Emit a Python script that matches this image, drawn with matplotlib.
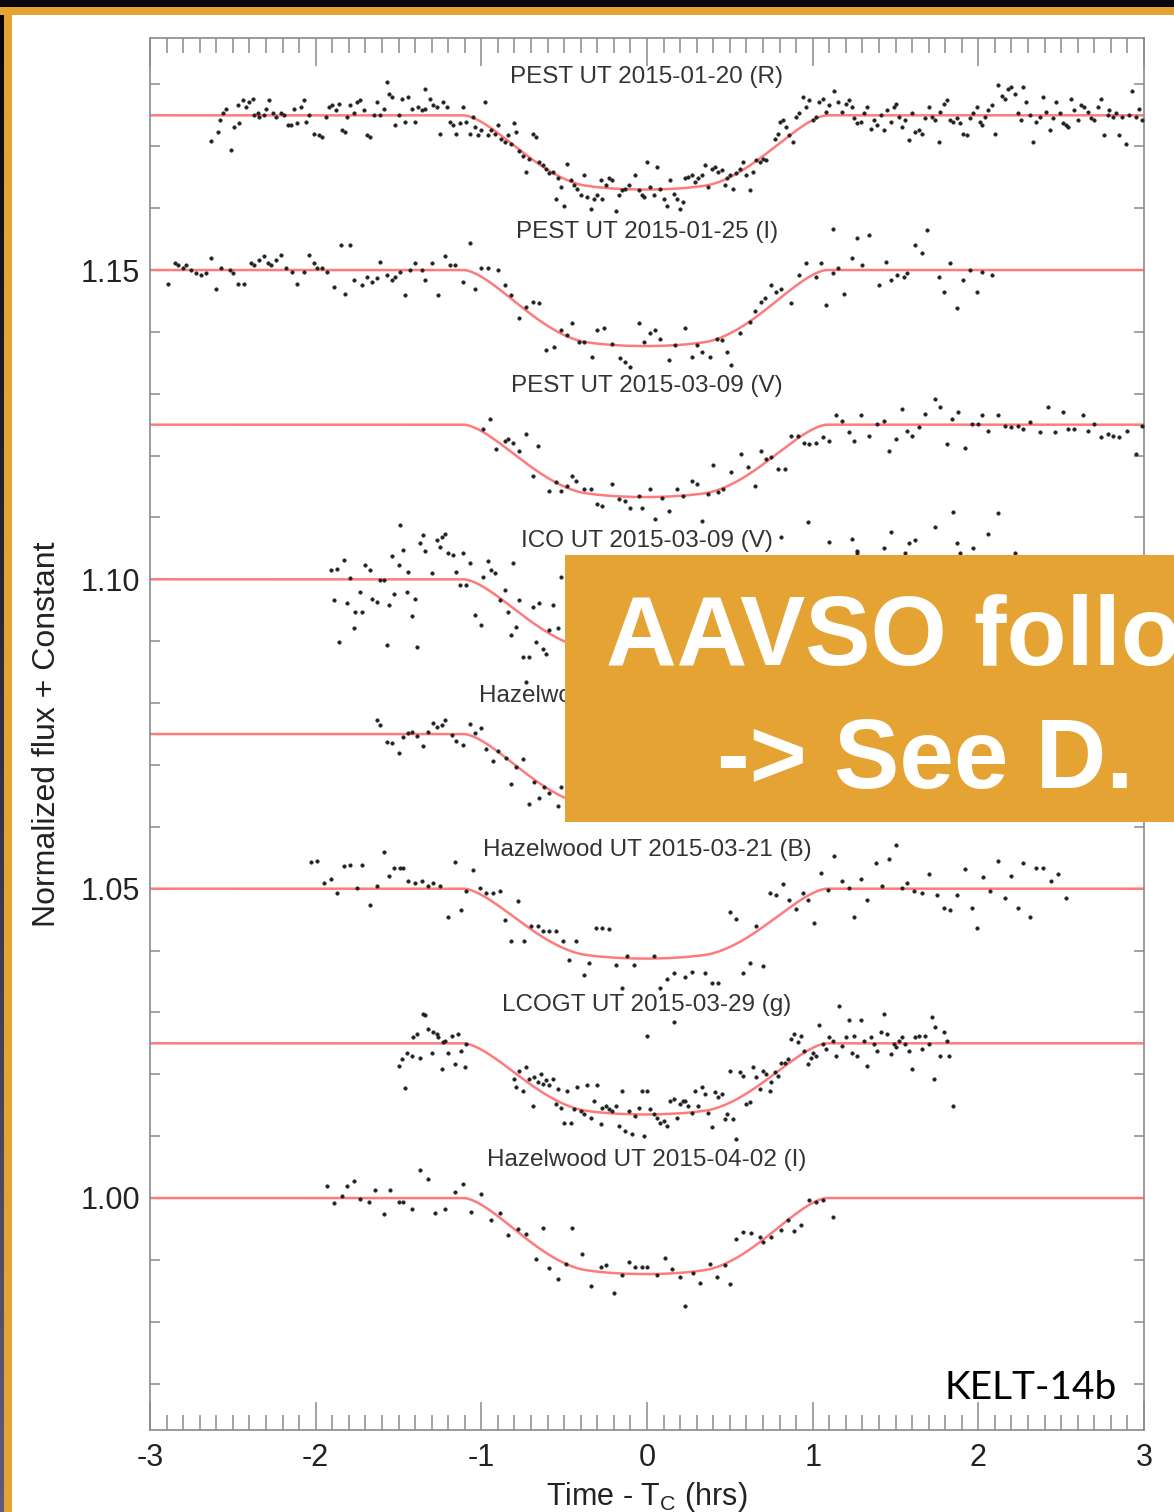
import numpy as np
import matplotlib
matplotlib.use("Agg")
from matplotlib import pyplot as plt
from matplotlib.patches import Rectangle
from matplotlib.ticker import MultipleLocator, FixedLocator

plt.rcParams['font.family'] = ['Liberation Sans', 'DejaVu Sans']
plt.rcParams['axes.unicode_minus'] = False

W, H = 1174, 1512

# light curves: (hours from mid-transit, normalized flux)
pest_r = [
    (-2.63, 0.9958), (-2.59, 0.9973), (-2.58, 0.9992), (-2.56, 1.0003), (-2.54, 1.0011), (-2.51, 0.9944),
    (-2.49, 0.9981), (-2.47, 1.0017), (-2.46, 0.9987), (-2.44, 1.0024), (-2.42, 1.0013), (-2.40, 1.0022),
    (-2.38, 1.0027), (-2.37, 1.0000), (-2.35, 1.0003), (-2.34, 0.9997), (-2.31, 1.0000), (-2.30, 1.0011),
    (-2.28, 1.0024), (-2.26, 1.0003), (-2.24, 0.9997), (-2.21, 1.0003), (-2.19, 1.0000), (-2.17, 0.9984),
    (-2.15, 0.9984), (-2.13, 1.0011), (-2.11, 0.9987), (-2.09, 1.0013), (-2.07, 1.0024), (-2.06, 0.9989),
    (-2.04, 1.0000), (-2.01, 0.9970), (-1.98, 0.9968), (-1.96, 0.9965), (-1.94, 0.9997), (-1.92, 1.0013),
    (-1.90, 1.0016), (-1.88, 1.0008), (-1.86, 1.0019), (-1.84, 0.9976), (-1.82, 0.9973), (-1.81, 0.9997),
    (-1.79, 1.0016), (-1.77, 1.0003), (-1.75, 1.0022), (-1.73, 1.0024), (-1.71, 1.0008), (-1.69, 0.9968),
    (-1.67, 0.9965), (-1.65, 1.0000), (-1.63, 1.0022), (-1.61, 1.0000), (-1.59, 1.0011), (-1.57, 1.0054),
    (-1.56, 1.0035), (-1.54, 1.0030), (-1.52, 0.9984), (-1.50, 1.0000), (-1.48, 1.0027), (-1.46, 0.9989),
    (-1.44, 1.0030), (-1.42, 1.0011), (-1.40, 0.9989), (-1.38, 1.0013), (-1.36, 1.0008), (-1.34, 1.0011),
    (-1.34, 1.0043), (-1.31, 1.0027), (-1.29, 1.0016), (-1.27, 1.0013), (-1.25, 0.9970), (-1.23, 1.0022),
    (-1.21, 1.0013), (-1.19, 0.9989), (-1.17, 0.9984), (-1.15, 0.9970), (-1.13, 0.9987), (-1.11, 1.0013),
    (-1.09, 0.9989), (-1.07, 0.9970),
    (-1.05, 0.9997), (-1.04, 0.9981), (-1.02, 0.9968), (-1.00, 0.9976), (-0.98, 1.0022), (-0.96, 0.9968),
    (-0.94, 0.9976), (-0.92, 0.9970), (-0.90, 0.9984), (-0.88, 0.9962), (-0.86, 0.9957), (-0.84, 0.9968),
    (-0.82, 0.9954), (-0.80, 0.9987), (-0.79, 0.9973), (-0.77, 0.9943), (-0.75, 0.9935), (-0.73, 0.9908),
    (-0.71, 0.9930), (-0.69, 0.9970), (-0.67, 0.9965), (-0.65, 0.9924), (-0.63, 0.9919), (-0.61, 0.9914),
    (-0.59, 0.9906), (-0.57, 0.9908), (-0.55, 0.9865), (-0.54, 0.9898), (-0.52, 0.9884), (-0.50, 0.9854),
    (-0.48, 0.9922), (-0.46, 0.9895), (-0.44, 0.9887), (-0.42, 0.9881), (-0.40, 0.9871), (-0.38, 0.9903),
    (-0.36, 0.9868), (-0.34, 0.9849), (-0.32, 0.9865), (-0.30, 0.9871), (-0.28, 0.9895), (-0.27, 0.9865),
    (-0.25, 0.9887), (-0.23, 0.9898), (-0.21, 0.9895), (-0.19, 0.9846), (-0.17, 0.9871), (-0.15, 0.9879),
    (-0.13, 0.9881), (-0.11, 0.9887), (-0.07, 0.9903), (-0.05, 0.9879), (-0.03, 0.9871), (-0.02, 0.9868),
    (0.00, 0.9924), (0.02, 0.9884), (0.04, 0.9871), (0.06, 0.9916), (0.08, 0.9881), (0.10, 0.9865),
    (0.12, 0.9854), (0.14, 0.9895), (0.16, 0.9873), (0.18, 0.9865), (0.20, 0.9849), (0.22, 0.9860),
    (0.23, 0.9898), (0.25, 0.9900), (0.27, 0.9903), (0.29, 0.9892), (0.31, 0.9898), (0.33, 0.9903),
    (0.35, 0.9919), (0.37, 0.9884), (0.39, 0.9914), (0.41, 0.9916), (0.43, 0.9908), (0.45, 0.9911),
    (0.47, 0.9887), (0.48, 0.9898), (0.50, 0.9903), (0.52, 0.9881), (0.54, 0.9906), (0.56, 0.9914),
    (0.58, 0.9924), (0.60, 0.9903), (0.62, 0.9879), (0.64, 0.9908), (0.66, 0.9927), (0.68, 0.9924),
    (0.70, 0.9930), (0.72, 0.9927),
    (0.77, 0.9962), (0.79, 0.9970), (0.80, 0.9989), (0.82, 0.9992), (0.84, 0.9981), (0.86, 0.9968),
    (0.88, 0.9957), (0.90, 0.9997), (0.92, 1.0003), (0.94, 1.0030), (0.96, 1.0013), (0.98, 1.0024),
    (1.00, 0.9992), (1.02, 0.9997), (1.04, 1.0022), (1.06, 1.0027), (1.08, 1.0005), (1.10, 1.0016),
    (1.13, 1.0040), (1.15, 1.0022),
    (1.18, 1.0005), (1.20, 1.0019), (1.22, 1.0024), (1.24, 1.0013), (1.25, 0.9995), (1.27, 0.9987),
    (1.29, 0.9989), (1.31, 1.0003), (1.33, 1.0013), (1.35, 0.9978), (1.37, 0.9992), (1.39, 0.9984),
    (1.41, 1.0000), (1.43, 0.9976), (1.45, 1.0008), (1.47, 0.9989), (1.49, 1.0013), (1.50, 1.0019),
    (1.52, 0.9997), (1.54, 0.9981), (1.56, 0.9992), (1.58, 0.9960), (1.60, 1.0003), (1.62, 0.9973),
    (1.64, 0.9976), (1.66, 0.9970), (1.68, 0.9995), (1.70, 1.0013), (1.72, 0.9997), (1.74, 0.9992),
    (1.76, 0.9957), (1.77, 1.0005), (1.79, 1.0019), (1.81, 1.0024), (1.83, 0.9992), (1.85, 0.9989),
    (1.87, 0.9995), (1.89, 0.9987), (1.91, 0.9970), (1.93, 0.9968), (1.95, 0.9995), (1.97, 1.0003),
    (1.99, 1.0013), (2.01, 0.9989), (2.02, 0.9984), (2.04, 0.9997), (2.06, 1.0008), (2.08, 1.0016),
    (2.10, 0.9970), (2.12, 1.0049), (2.14, 1.0032), (2.16, 1.0027), (2.18, 1.0043), (2.20, 1.0046),
    (2.22, 1.0035), (2.24, 1.0003), (2.26, 0.9992), (2.27, 1.0046), (2.29, 1.0022), (2.31, 1.0000),
    (2.33, 0.9957), (2.35, 0.9989), (2.37, 0.9997), (2.39, 1.0030), (2.41, 1.0005), (2.43, 0.9976),
    (2.45, 0.9995), (2.47, 1.0022), (2.49, 1.0003), (2.51, 0.9987), (2.53, 0.9984), (2.54, 0.9981),
    (2.56, 1.0027), (2.58, 1.0008), (2.60, 0.9992), (2.62, 1.0016), (2.64, 1.0013), (2.66, 1.0005),
    (2.68, 0.9995), (2.70, 0.9992), (2.72, 1.0013), (2.74, 1.0027), (2.76, 0.9968), (2.78, 1.0000),
    (2.79, 1.0008), (2.81, 0.9997), (2.83, 1.0003), (2.85, 0.9968), (2.87, 0.9997), (2.89, 0.9954),
    (2.91, 1.0000), (2.93, 1.0040), (2.95, 0.9997), (2.97, 1.0011), (2.99, 0.9992),
]

pest_i = [
    (-2.89, 0.9978), (-2.85, 1.0011), (-2.83, 1.0008), (-2.80, 1.0003), (-2.78, 1.0008), (-2.75, 1.0000),
    (-2.72, 0.9995), (-2.69, 0.9992), (-2.66, 0.9995), (-2.63, 1.0019), (-2.60, 0.9970), (-2.57, 1.0003),
    (-2.52, 1.0000), (-2.50, 0.9995), (-2.47, 0.9978), (-2.43, 0.9978), (-2.39, 1.0011), (-2.37, 1.0008),
    (-2.34, 1.0016), (-2.31, 1.0022), (-2.29, 1.0011), (-2.27, 1.0008), (-2.24, 1.0016), (-2.21, 1.0024),
    (-2.18, 1.0003), (-2.14, 0.9997), (-2.11, 0.9978), (-2.07, 0.9997), (-2.04, 1.0024), (-2.01, 1.0011),
    (-1.99, 1.0003), (-1.96, 1.0003), (-1.93, 0.9997), (-1.89, 0.9973), (-1.85, 1.0040), (-1.82, 0.9962),
    (-1.79, 1.0040), (-1.77, 0.9984), (-1.72, 0.9976), (-1.69, 0.9989), (-1.66, 0.9981), (-1.63, 0.9987),
    (-1.61, 1.0013), (-1.57, 0.9992), (-1.54, 0.9984), (-1.52, 0.9989), (-1.49, 0.9997), (-1.46, 0.9960),
    (-1.43, 1.0000), (-1.40, 1.0011), (-1.36, 1.0000), (-1.34, 0.9984), (-1.30, 1.0011), (-1.26, 0.9960),
    (-1.22, 1.0022), (-1.19, 1.0008), (-1.16, 1.0008), (-1.11, 0.9981), (-1.07, 1.0043), (-1.04, 0.9970),
    (-1.00, 1.0003), (-0.96, 1.0003), (-0.90, 1.0000),
    (-0.86, 0.9976), (-0.82, 0.9960), (-0.77, 0.9922), (-0.73, 0.9941), (-0.69, 0.9949), (-0.65, 0.9946),
    (-0.61, 0.9871), (-0.56, 0.9876), (-0.52, 0.9903), (-0.48, 0.9895), (-0.45, 0.9914), (-0.41, 0.9884),
    (-0.38, 0.9884), (-0.33, 0.9860), (-0.30, 0.9903), (-0.26, 0.9906), (-0.21, 0.9881), (-0.16, 0.9857),
    (-0.13, 0.9852), (-0.10, 0.9844), (-0.05, 0.9914), (-0.02, 0.9884), (0.02, 0.9898), (0.05, 0.9903),
    (0.08, 0.9889), (0.13, 0.9854), (0.17, 0.9879), (0.23, 0.9906), (0.27, 0.9860), (0.30, 0.9879),
    (0.33, 0.9868), (0.38, 0.9860), (0.42, 0.9889), (0.45, 0.9887), (0.48, 0.9868), (0.51, 0.9846),
    (0.56, 0.9898), (0.62, 0.9916), (0.65, 0.9933), (0.69, 0.9949), (0.71, 0.9954), (0.75, 0.9976),
    (0.78, 0.9965), (0.81, 0.9970), (0.87, 0.9946), (0.92, 0.9992), (0.96, 1.0011), (1.02, 0.9989),
    (1.05, 1.0011), (1.08, 0.9943), (1.12, 0.9995), (1.12, 1.0067), (1.15, 1.0003), (1.19, 0.9962),
    (1.24, 1.0019), (1.27, 1.0051), (1.30, 1.0008), (1.34, 1.0057), (1.40, 0.9976), (1.44, 1.0013),
    (1.47, 0.9984), (1.51, 0.9992), (1.55, 0.9989), (1.57, 0.9995), (1.62, 1.0040), (1.66, 1.0027),
    (1.69, 1.0065), (1.76, 0.9989), (1.79, 0.9965), (1.83, 1.0011), (1.87, 0.9938), (1.91, 0.9984),
    (1.95, 1.0000), (1.99, 0.9965), (2.02, 0.9997), (2.08, 0.9992),
]

pest_v = [
    (-0.99, 0.9993), (-0.95, 1.0009), (-0.91, 0.9961), (-0.86, 0.9974), (-0.84, 0.9977), (-0.81, 0.9971),
    (-0.77, 0.9958), (-0.73, 0.9985), (-0.69, 0.9917), (-0.66, 0.9966), (-0.59, 0.9893), (-0.55, 0.9907),
    (-0.52, 0.9893), (-0.48, 0.9901), (-0.45, 0.9917), (-0.43, 0.9909), (-0.38, 0.9896), (-0.34, 0.9896),
    (-0.30, 0.9872), (-0.27, 0.9869), (-0.21, 0.9904), (-0.17, 0.9880), (-0.13, 0.9877), (-0.10, 0.9866),
    (-0.05, 0.9885), (-0.03, 0.9866), (0.02, 0.9896), (0.05, 0.9847), (0.09, 0.9882), (0.13, 0.9861),
    (0.18, 0.9896), (0.22, 0.9885), (0.27, 0.9909), (0.30, 0.9904), (0.33, 0.9845), (0.37, 0.9888),
    (0.40, 0.9934), (0.43, 0.9891), (0.46, 0.9896), (0.51, 0.9923), (0.57, 0.9953), (0.61, 0.9931),
    (0.65, 0.9901), (0.69, 0.9958), (0.72, 0.9944), (0.75, 0.9947), (0.79, 0.9928), (0.83, 0.9928),
    (0.87, 0.9982), (0.91, 0.9982), (0.95, 0.9971), (0.98, 0.9969), (1.02, 0.9971), (1.06, 0.9980),
    (1.10, 0.9974), (1.14, 1.0015), (1.18, 1.0006), (1.22, 0.9988), (1.25, 0.9974), (1.29, 1.0015),
    (1.34, 0.9982), (1.39, 1.0001), (1.43, 1.0006), (1.46, 0.9958), (1.50, 0.9977), (1.54, 1.0025),
    (1.57, 0.9990), (1.60, 0.9982), (1.64, 0.9996), (1.68, 1.0017), (1.74, 1.0042), (1.77, 1.0028),
    (1.81, 0.9969), (1.84, 1.0009), (1.88, 1.0020), (1.92, 0.9963), (1.96, 1.0001), (2.00, 1.0001),
    (2.02, 1.0015), (2.06, 0.9990), (2.12, 1.0015), (2.16, 0.9998), (2.20, 0.9996), (2.24, 0.9998),
    (2.27, 0.9993), (2.31, 1.0004), (2.37, 0.9988), (2.42, 1.0028), (2.46, 0.9988), (2.51, 1.0020),
    (2.54, 0.9993), (2.58, 0.9993), (2.63, 1.0015), (2.66, 0.9990), (2.70, 1.0001), (2.74, 0.9980),
    (2.78, 0.9985), (2.81, 0.9982), (2.85, 0.9980), (2.90, 0.9990), (2.95, 0.9953), (2.99, 0.9998),
]

ico_v = [
    (-1.91, 1.0015), (-1.87, 1.0016), (-1.89, 0.9967), (-1.86, 0.9899), (-1.83, 1.0032), (-1.81, 0.9961),
    (-1.79, 1.0002), (-1.77, 0.9921), (-1.76, 0.9948), (-1.73, 0.9980), (-1.72, 0.9948), (-1.70, 1.0023),
    (-1.67, 1.0015), (-1.66, 0.9969), (-1.63, 0.9964), (-1.61, 0.9999), (-1.59, 0.9999), (-1.57, 0.9894),
    (-1.56, 0.9958), (-1.54, 1.0037), (-1.53, 0.9977), (-1.50, 1.0023), (-1.49, 1.0088), (-1.47, 1.0047),
    (-1.45, 0.9980), (-1.44, 1.0012), (-1.42, 0.9940), (-1.40, 0.9969), (-1.39, 0.9891), (-1.37, 1.0058),
    (-1.35, 1.0072), (-1.34, 1.0045), (-1.30, 1.0010), (-1.27, 1.0064), (-1.25, 1.0053), (-1.24, 1.0069),
    (-1.22, 1.0074), (-1.20, 1.0042), (-1.17, 1.0039), (-1.15, 1.0012), (-1.13, 0.9991), (-1.11, 1.0042),
    (-1.09, 0.9991), (-1.07, 1.0026), (-1.04, 0.9942), (-1.00, 0.9926), (-0.99, 1.0004), (-0.96, 1.0029),
    (-0.94, 1.0015), (-0.92, 1.0010), (-0.89, 0.9967), (-0.86, 0.9983), (-0.84, 0.9948), (-0.82, 0.9910),
    (-0.81, 1.0026), (-0.79, 0.9923), (-0.77, 0.9967), (-0.75, 0.9875), (-0.73, 0.9834), (-0.71, 0.9875),
    (-0.69, 0.9956), (-0.67, 0.9899), (-0.65, 0.9961), (-0.63, 0.9888), (-0.61, 0.9880), (-0.59, 0.9918),
    (-0.57, 0.9958), (-0.54, 0.9921), (-0.52, 1.0004),
    (0.81, 1.0069), (0.97, 1.0093), (1.10, 1.0061), (1.24, 1.0066), (1.27, 1.0043), (1.27, 1.0045),
    (1.43, 1.0050), (1.47, 1.0077), (1.56, 1.0043), (1.58, 1.0058), (1.62, 1.0064), (1.74, 1.0085),
    (1.85, 1.0109), (1.87, 1.0058), (1.89, 1.0042), (1.97, 1.0050), (2.06, 1.0074), (2.12, 1.0107),
    (2.22, 1.0042),
]

hazel_a = [
    (-1.63, 1.0022), (-1.61, 1.0014), (-1.57, 0.9987), (-1.54, 0.9985), (-1.50, 0.9969), (-1.47, 0.9995),
    (-1.44, 1.0002), (-1.42, 1.0004), (-1.39, 0.9996), (-1.35, 0.9980), (-1.32, 1.0003), (-1.29, 1.0018),
    (-1.27, 1.0011), (-1.24, 1.0015), (-1.22, 1.0022), (-1.18, 0.9999), (-1.15, 0.9988), (-1.11, 0.9983),
    (-1.07, 1.0016), (-1.04, 1.0002), (-1.00, 1.0010), (-0.97, 0.9975), (-0.93, 0.9956), (-0.90, 0.9973),
    (-0.85, 0.9962), (-0.82, 0.9919), (-0.79, 0.9946), (-0.75, 0.9960), (-0.71, 0.9887), (-0.68, 0.9923),
    (-0.65, 0.9896), (-0.62, 0.9914), (-0.59, 0.9905), (-0.54, 0.9883), (-0.52, 0.9914),
]

hazel_b = [
    (-2.03, 1.0043), (-1.99, 1.0044), (-1.95, 1.0009), (-1.91, 1.0016), (-1.87, 0.9993), (-1.83, 1.0036),
    (-1.79, 1.0039), (-1.75, 1.0001), (-1.72, 1.0039), (-1.67, 0.9974), (-1.63, 1.0004), (-1.59, 1.0060),
    (-1.56, 1.0020), (-1.53, 1.0033), (-1.49, 1.0033), (-1.47, 1.0033), (-1.44, 1.0012), (-1.40, 1.0009),
    (-1.36, 1.0012), (-1.32, 1.0004), (-1.29, 1.0009), (-1.25, 1.0004), (-1.20, 0.9954), (-1.16, 1.0043),
    (-1.12, 0.9966), (-1.09, 0.9997), (-1.05, 1.0030), (-1.01, 1.0001), (-0.97, 0.9993), (-0.93, 0.9993),
    (-0.89, 0.9996), (-0.86, 0.9950), (-0.82, 0.9915), (-0.78, 0.9980), (-0.74, 0.9915), (-0.70, 0.9939),
    (-0.66, 0.9939), (-0.63, 0.9931), (-0.59, 0.9931), (-0.55, 0.9931), (-0.51, 0.9915), (-0.47, 0.9885),
    (-0.43, 0.9915), (-0.38, 0.9861), (-0.35, 0.9880), (-0.31, 0.9936), (-0.27, 0.9936), (-0.23, 0.9934),
    (-0.19, 0.9877), (-0.15, 0.9839), (-0.12, 0.9891), (-0.08, 0.9877), (0.04, 0.9891), (0.08, 0.9839),
    (0.12, 0.9854), (0.16, 0.9864), (0.23, 0.9857), (0.27, 0.9866), (0.35, 0.9864), (0.39, 0.9847),
    (0.43, 0.9847), (0.50, 0.9963), (0.54, 0.9951), (0.58, 0.9864), (0.62, 0.9880), (0.66, 0.9939),
    (0.70, 0.9875), (0.74, 0.9993), (0.78, 0.9990), (0.82, 1.0008), (0.86, 0.9982), (0.90, 0.9967),
    (0.94, 0.9993), (0.97, 0.9982), (1.01, 0.9944), (1.05, 1.0025), (1.09, 0.9998), (1.13, 1.0052),
    (1.18, 1.0012), (1.22, 1.0001), (1.25, 0.9955), (1.29, 1.0016), (1.33, 0.9981), (1.38, 1.0042),
    (1.42, 1.0004), (1.46, 1.0048), (1.50, 1.0070), (1.54, 1.0001), (1.57, 1.0009), (1.61, 0.9996),
    (1.66, 0.9993), (1.70, 1.0023), (1.75, 0.9990), (1.79, 0.9969), (1.83, 0.9966), (1.87, 0.9990),
    (1.92, 1.0031), (1.96, 0.9969), (1.99, 0.9936), (2.03, 1.0019), (2.07, 0.9996), (2.12, 1.0044),
    (2.16, 0.9985), (2.20, 1.0020), (2.24, 0.9969), (2.27, 1.0042), (2.31, 0.9955), (2.35, 1.0033),
    (2.39, 1.0033), (2.44, 1.0012), (2.48, 1.0023), (2.53, 0.9985),
]

lcogt_g = [
    (-1.50, 0.9964), (-1.48, 0.9975), (-1.46, 0.9928), (-1.45, 0.9985), (-1.42, 0.9980), (-1.41, 1.0010),
    (-1.39, 1.0015), (-1.37, 0.9977), (-1.35, 1.0047), (-1.34, 1.0046), (-1.32, 1.0023), (-1.30, 0.9985),
    (-1.29, 1.0018), (-1.27, 1.0015), (-1.26, 1.0010), (-1.24, 0.9958), (-1.23, 1.0002), (-1.22, 1.0004),
    (-1.20, 0.9985), (-1.18, 1.0012), (-1.16, 0.9967), (-1.14, 1.0015), (-1.12, 0.9988), (-1.10, 0.9962),
    (-1.09, 0.9999),
    (-0.80, 0.9942), (-0.79, 0.9929), (-0.77, 0.9956), (-0.75, 0.9923), (-0.73, 0.9961), (-0.71, 0.9942),
    (-0.69, 0.9899), (-0.68, 0.9945), (-0.66, 0.9937), (-0.64, 0.9950), (-0.63, 0.9934), (-0.61, 0.9940),
    (-0.59, 0.9932), (-0.57, 0.9942), (-0.55, 0.9902), (-0.54, 0.9926), (-0.52, 0.9896), (-0.50, 0.9872),
    (-0.48, 0.9923), (-0.46, 0.9872), (-0.44, 0.9894), (-0.42, 0.9929), (-0.40, 0.9891), (-0.38, 0.9886),
    (-0.36, 0.9932), (-0.34, 0.9880), (-0.32, 0.9907), (-0.30, 0.9932), (-0.28, 0.9869), (-0.27, 0.9896),
    (-0.25, 0.9899), (-0.23, 0.9894), (-0.21, 0.9891), (-0.19, 0.9899), (-0.17, 0.9867), (-0.15, 0.9923),
    (-0.13, 0.9859), (-0.11, 0.9891), (-0.09, 0.9853), (-0.07, 0.9883), (-0.05, 0.9896), (-0.03, 0.9923),
    (-0.02, 0.9851), (0.00, 0.9923), (0.02, 0.9894), (0.04, 0.9886), (0.06, 0.9880), (0.08, 0.9872),
    (0.10, 0.9875), (0.12, 0.9867), (0.14, 0.9907), (0.16, 0.9910), (0.18, 0.9880), (0.20, 0.9902),
    (0.22, 0.9907), (0.23, 0.9907), (0.25, 0.9899), (0.27, 0.9888), (0.29, 0.9923), (0.31, 0.9899),
    (0.33, 0.9929), (0.35, 0.9918), (0.37, 0.9888), (0.39, 0.9864), (0.41, 0.9921), (0.43, 0.9913),
    (0.45, 0.9918), (0.47, 0.9878), (0.48, 0.9886), (0.50, 0.9956), (0.52, 0.9878), (0.54, 0.9845),
    (0.56, 0.9953), (0.58, 0.9948), (0.60, 0.9902), (0.62, 0.9905), (0.64, 0.9961), (0.66, 0.9945),
    (0.68, 0.9926), (0.70, 0.9956), (0.72, 0.9950), (0.74, 0.9923), (0.75, 0.9937), (0.77, 0.9953),
    (0.79, 0.9948), (0.81, 0.9969), (0.83, 0.9969), (0.85, 0.9975), (0.00, 1.0012), (0.16, 1.0034),
    (0.87, 1.0007), (0.89, 1.0015), (0.91, 1.0002), (0.93, 1.0012), (0.95, 0.9988), (0.97, 0.9967),
    (0.99, 0.9977), (1.00, 0.9985), (1.02, 0.9980), (1.04, 1.0029), (1.06, 0.9999), (1.08, 0.9991),
    (1.10, 1.0010), (1.12, 1.0004), (1.14, 0.9980), (1.16, 1.0061), (1.18, 0.9996), (1.20, 1.0010),
    (1.22, 1.0037), (1.24, 0.9985), (1.25, 1.0012), (1.27, 0.9980), (1.29, 1.0037), (1.31, 1.0004),
    (1.33, 0.9964), (1.35, 1.0010), (1.37, 0.9999), (1.39, 0.9988), (1.41, 1.0018), (1.43, 1.0047),
    (1.45, 1.0015), (1.47, 0.9983), (1.49, 0.9999), (1.50, 0.9994), (1.52, 1.0004), (1.54, 1.0010),
    (1.56, 0.9999), (1.58, 0.9988), (1.60, 0.9958), (1.62, 1.0010), (1.64, 1.0012), (1.66, 0.9991),
    (1.68, 1.0012), (1.70, 0.9999), (1.72, 1.0042), (1.73, 0.9942), (1.74, 1.0026), (1.77, 0.9980),
    (1.79, 1.0018), (1.81, 1.0004), (1.82, 0.9980), (1.85, 0.9899),
]

hazel_i = [
    (-1.93, 1.0019), (-1.89, 0.9992), (-1.84, 1.0004), (-1.81, 1.0020), (-1.77, 1.0028), (-1.73, 0.9999),
    (-1.68, 0.9994), (-1.64, 1.0013), (-1.59, 0.9974), (-1.55, 1.0013), (-1.50, 0.9994), (-1.47, 0.9994),
    (-1.42, 0.9983), (-1.37, 1.0046), (-1.32, 1.0031), (-1.28, 0.9976), (-1.22, 0.9983), (-1.16, 1.0010),
    (-1.11, 1.0023), (-1.06, 0.9977), (-1.00, 1.0007), (-0.94, 0.9965), (-0.89, 0.9976), (-0.84, 0.9940),
    (-0.78, 0.9950), (-0.73, 0.9942), (-0.67, 0.9902), (-0.63, 0.9952), (-0.59, 0.9887), (-0.54, 0.9869),
    (-0.49, 0.9894), (-0.45, 0.9952), (-0.39, 0.9909), (-0.34, 0.9857), (-0.28, 0.9888), (-0.25, 0.9891),
    (-0.20, 0.9846), (-0.15, 0.9875), (-0.11, 0.9896), (-0.07, 0.9888), (-0.03, 0.9888), (0.00, 0.9888),
    (0.06, 0.9875), (0.11, 0.9903), (0.15, 0.9886), (0.20, 0.9873), (0.23, 0.9825), (0.28, 0.9878),
    (0.32, 0.9862), (0.38, 0.9893), (0.42, 0.9872), (0.47, 0.9891), (0.50, 0.9861), (0.54, 0.9934),
    (0.58, 0.9945), (0.63, 0.9943), (0.68, 0.9937), (0.70, 0.9929), (0.75, 0.9937), (0.81, 0.9949),
    (0.85, 0.9964), (0.89, 0.9947), (0.93, 0.9956), (0.98, 0.9997), (1.02, 0.9994), (1.06, 0.9996),
    (1.12, 0.9970),
]

curves = [pest_r, pest_i, pest_v, ico_v, hazel_a, hazel_b, lcogt_g, hazel_i]
offsets = [0.175, 0.150, 0.125, 0.100, 0.075, 0.050, 0.025, 0.000]
depths = [0.0120, 0.0123, 0.0117, 0.0117, 0.0120, 0.0113, 0.0115, 0.0123]
labels = ["PEST UT 2015-01-20 (R)", "PEST UT 2015-01-25 (I)", "PEST UT 2015-03-09 (V)",
          "ICO UT 2015-03-09 (V)", "Hazelwood", "Hazelwood UT 2015-03-21 (B)",
          "LCOGT UT 2015-03-29 (g)", "Hazelwood UT 2015-04-02 (I)"]

# transit geometry for the model curve
t_mid = -0.01
half_dur = 1.095
imp_b = 0.85
rp = 0.115
ld_u1, ld_u2 = 0.35, 0.25


def transit_deficit(t):
    v = np.sqrt((1 + rp) ** 2 - imp_b ** 2) / half_dur
    z = np.sqrt(imp_b ** 2 + (v * (t - t_mid)) ** 2)[:, None]
    r = np.linspace(0.0005, 0.9995, 1000)[None, :]
    mu = np.sqrt(1 - r ** 2)
    inten = 1 - ld_u1 * (1 - mu) - ld_u2 * (1 - mu) ** 2
    c = (r ** 2 + z ** 2 - rp ** 2) / (2 * r * z)
    frac = np.arccos(np.clip(c, -1, 1)) / np.pi
    return (frac * inten * r).sum(1) / (inten * r).sum()


fig = plt.figure(figsize=(W / 100, H / 100), dpi=100, facecolor='white')
ax = fig.add_axes([150 / W, 1 - 1430 / H, 994 / W, 1392 / H])

tm = np.linspace(-3, 3, 1201)
deficit = transit_deficit(tm)
deficit = deficit / deficit.max()

for pts, off, dep, lab in zip(curves, offsets, depths, labels):
    t, f = np.array(pts).T
    ax.plot(tm, 1 + off - dep * deficit, color='#ff7b7b', lw=1.8, zorder=2)
    ax.plot(t, f + off, 'o', ms=2.6, mfc='#222222', mec='#222222', mew=0.3, zorder=3)
    if lab == "Hazelwood":
        ax.text(-1.015, 1 + off + 0.0062, lab, ha='left', va='center', fontsize=17.5, color='#333333')
    else:
        ax.text(0, 1 + off + 0.0062, lab, ha='center', va='center', fontsize=17.5, color='#333333')

ax.set_xlim(-3, 3)
ax.set_ylim(0.9625, 1.1875)
ax.xaxis.set_major_locator(MultipleLocator(1))
ax.xaxis.set_minor_locator(MultipleLocator(0.1))
ax.yaxis.set_major_locator(FixedLocator([1.00, 1.05, 1.10, 1.15]))
ax.yaxis.set_minor_locator(MultipleLocator(0.01))
ax.set_yticklabels(['1.00', '1.05', '1.10', '1.15'])
ax.set_xticks([-3, -2, -1, 0, 1, 2, 3])
ax.set_xticklabels(['-3', '-2', '-1', '0', '1', '2', '3'])

ax.tick_params(which='both', direction='in', top=True, right=True, color='#8a8a8a', width=1.1)
ax.tick_params(axis='x', which='major', length=20, pad=9, labelsize=22, labelcolor='#222222')
ax.tick_params(axis='x', which='minor', length=10.5)
ax.tick_params(axis='y', which='major', length=14, pad=7, labelsize=22, labelcolor='#222222')
ax.tick_params(axis='y', which='minor', length=7)
for s in ax.spines.values():
    s.set_color('#8a8a8a')
    s.set_linewidth(1.2)

ax.set_xlabel('Time - T$_\\mathregular{C}$ (hrs)', fontsize=22, color='#222222')
ax.xaxis.set_label_coords(0.5, -0.036)
ax.set_ylabel('Normalized flux + Constant', fontsize=23, color='#222222')
ax.yaxis.set_label_coords(-0.089, 0.5)

ax.text(0.973, 0.03, 'KELT-14b', transform=ax.transAxes, ha='right', va='center',
        fontsize=28, family=['Lato', 'DejaVu Sans'], color='black')


def px_rect(x0, y0, x1, y1, color, z=5):
    fig.patches.append(Rectangle((x0 / W, 1 - y1 / H), (x1 - x0) / W, (y1 - y0) / H,
                                 transform=fig.transFigure, facecolor=color, edgecolor='none',
                                 zorder=z))


orange = '#e5a334'
# slide frame
px_rect(0, 0, W, 7, '#07070d')
px_rect(0, 7, W, 15, orange)
px_rect(4, 7, 12, H, orange)
grad = fig.add_axes([0, 0, 4 / W, 1 - 7 / H])
grad.imshow(np.linspace(0, 1, 256)[:, None], aspect='auto',
            cmap=matplotlib.colors.LinearSegmentedColormap.from_list('edge', ['#06060c', '#5f5b7a']))
grad.axis('off')

# overlay note
px_rect(565, 555, W + 5, 822, orange, z=6)
fig.text(606 / W, 1 - 665 / H, 'AAVSO follow-up', color='white', fontsize=70.5, fontweight='bold',
         ha='left', va='baseline', zorder=7)
fig.text(717 / W, 1 - 788 / H, '-> See D.', color='white', fontsize=70.5, fontweight='bold',
         ha='left', va='baseline', zorder=7)

fig.savefig('out.png', dpi=100, facecolor='white')
